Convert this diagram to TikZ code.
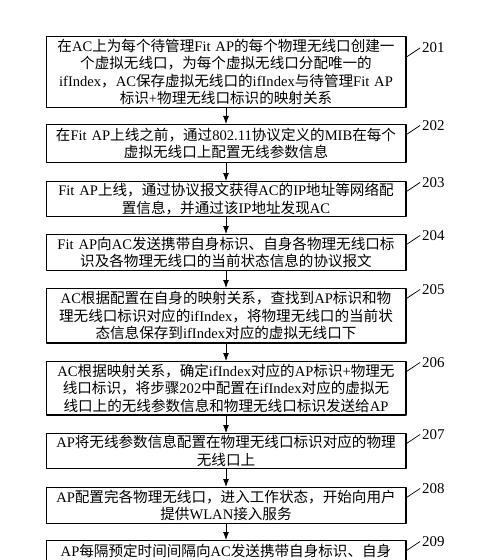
\documentclass[tikz,border=0pt]{standalone}
\usepackage{fontspec}
\usetikzlibrary{arrows.meta}
\setmainfont{Noto Sans CJK SC}
\newfontfamily\latinfont{Liberation Serif}
\newcommand\eng[1]{{\latinfont #1}}

\begin{document}
\begin{tikzpicture}[x=0.02cm,y=-0.02cm, line cap=round, line join=round]

\tikzset{
  stepbox/.style={draw, line width=0.6pt, anchor=north, minimum width=7.2cm, text width=7.0cm,
    inner xsep=0.1cm, inner ysep=1pt, align=center, font=\fontsize{8.3}{10}\selectfont},
  num/.style={anchor=west, inner sep=1pt, font=\latinfont\fontsize{8.5}{10}\selectfont},
  flow/.style={-{Latex[length=1.6mm,width=1.2mm]}, line width=0.5pt},
  tick/.style={line width=0.4pt}
}

\useasboundingbox (0,0) rectangle (500,560);
\clip (0,0) rectangle (500,560);

\node[stepbox, minimum height=1.42cm] (b1) at (226,36) {在\eng{AC}上为每个待管理\eng{Fit AP}的每个物理无线口创建一\\个虚拟无线口，为每个虚拟无线口分配唯一的\\\eng{ifIndex}，\eng{AC}保存虚拟无线口的\eng{ifIndex}与待管理\eng{Fit AP}\\标识\eng{+}物理无线口标识的映射关系};
\node[stepbox, minimum height=0.76cm] (b2) at (226,124) {在\eng{Fit AP}上线之前，通过\eng{802.11}协议定义的\eng{MIB}在每个\\虚拟无线口上配置无线参数信息};
\node[stepbox, minimum height=0.70cm] (b3) at (226,181) {\eng{Fit AP}上线，通过协议报文获得\eng{AC}的\eng{IP}地址等网络配\\置信息，并通过该\eng{IP}地址发现\eng{AC}};
\node[stepbox, minimum height=0.72cm] (b4) at (226,234) {\eng{Fit AP}向\eng{AC}发送携带自身标识、自身各物理无线口标\\识及各物理无线口的当前状态信息的协议报文};
\node[stepbox, minimum height=1.09cm] (b5) at (226,288) {\eng{AC}根据配置在自身的映射关系，查找到\eng{AP}标识和物\\理无线口标识对应的\eng{ifIndex}，将物理无线口的当前状\\态信息保存到\eng{ifIndex}对应的虚拟无线口下};
\node[stepbox, minimum height=1.07cm] (b6) at (226,361) {\eng{AC}根据映射关系，确定\eng{ifIndex}对应的\eng{AP}标识\eng{+}物理无\\线口标识，将步骤\eng{202}中配置在\eng{ifIndex}对应的虚拟无\\线口上的无线参数信息和物理无线口标识发送给\eng{AP}};
\node[stepbox, minimum height=0.70cm] (b7) at (226,433) {\eng{AP}将无线参数信息配置在物理无线口标识对应的物理\\无线口上};
\node[stepbox, minimum height=0.72cm] (b8) at (226,487) {\eng{AP}配置完各物理无线口，进入工作状态，开始向用户\\提供\eng{WLAN}接入服务};
\node[stepbox, minimum height=1.08cm] (b9) at (226,540) {\eng{AP}每隔预定时间间隔向\eng{AC}发送携带自身标识、自身\\~\\~};

% step numbers
\node[num] (n1) at (420,48) {201};
\node[num] (n2) at (420,125.5) {202};
\node[num] (n3) at (420,182.5) {203};
\node[num] (n4) at (420,235.5) {204};
\node[num] (n5) at (420,289.5) {205};
\node[num] (n6) at (420,362.5) {206};
\node[num] (n7) at (420,434.5) {207};
\node[num] (n8) at (420,488.5) {208};
\node[num] (n9) at (420,541.5) {209};

\draw[tick] ([yshift=-0.42cm]b1.north east) -- (n1.west);
\draw[tick] ([yshift=-0.21cm]b2.north east) -- (n2.west);
\draw[tick] ([yshift=-0.21cm]b3.north east) -- (n3.west);
\draw[tick] ([yshift=-0.21cm]b4.north east) -- (n4.west);
\draw[tick] ([yshift=-0.21cm]b5.north east) -- (n5.west);
\draw[tick] ([yshift=-0.21cm]b6.north east) -- (n6.west);
\draw[tick] ([yshift=-0.21cm]b7.north east) -- (n7.west);
\draw[tick] ([yshift=-0.21cm]b8.north east) -- (n8.west);
\draw[tick] ([yshift=-0.21cm]b9.north east) -- (n9.west);

% flow between steps
\draw[flow] (b1.south) -- (b2.north);
\draw[flow] (b2.south) -- (b3.north);
\draw[flow] (b3.south) -- (b4.north);
\draw[flow] (b4.south) -- (b5.north);
\draw[flow] (b5.south) -- (b6.north);
\draw[flow] (b6.south) -- (b7.north);
\draw[flow] (b7.south) -- (b8.north);
\draw[flow] (b8.south) -- (b9.north);

\end{tikzpicture}
\end{document}
